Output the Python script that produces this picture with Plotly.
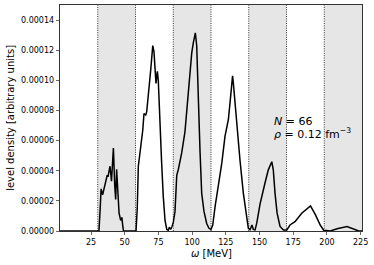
import plotly.graph_objects as go

# omega [MeV]
omega = [2.0, 30.9, 31.8, 32.5, 33.6, 34.9, 36.2, 37.0, 37.6, 38.4, 39.1, 40.2, 41.6, 42.6, 43.3,
         44.0, 44.6, 45.8, 47.0, 47.9, 48.6, 49.1, 58.4, 59.3, 60.1, 61.0, 62.6, 63.4, 64.3, 65.6,
         66.3, 67.5, 69.3, 70.8, 71.7, 73.2, 74.2, 74.9, 76.2, 77.4, 78.6, 79.9, 81.2, 82.3, 83.1,
         84.1, 85.1, 86.1, 87.3, 88.6, 89.8, 92.3, 94.7, 96.0, 97.2, 98.4, 99.7, 100.9, 102.4,
         103.4, 104.6, 105.9, 107.1, 108.8, 110.8, 112.5, 114.0, 115.3, 117.0, 119.4, 122.0, 124.4,
         126.9, 128.1, 130.0, 130.6, 131.8, 133.1, 135.5, 138.0, 140.5, 141.7, 143.0, 144.4, 145.4,
         146.7, 147.9, 150.4, 154.1, 156.5, 159.1, 160.2, 161.5, 163.0, 165.2, 167.7, 170.2, 172.6,
         176.3, 177.8, 181.3, 187.8, 191.4, 195.1, 197.6, 202.5, 207.5, 214.9, 219.9, 223.6, 226.0]

# level density in units of 1e-5
density_e5 = [0, 0, 1.5, 2.8, 2.4, 2.9, 3.5, 3.7, 3.6, 4.0, 4.3, 3.3, 5.5, 3.0, 2.1,
              4.1, 2.8, 1.2, 0.7, 0.9, 0.3, 0, 0, 1.5, 4.3, 5.0, 6.0, 6.7, 7.8, 7.7,
              7.9, 8.9, 10.7, 12.3, 11.9, 9.8, 10.6, 10.0, 6.7, 4.5, 2.3, 0.7, 0.1, 0.05, 0.25,
              0.1, 0.3, 0.6, 1.3, 3.7, 4.1, 5.2, 6.6, 7.9, 9.6, 10.4, 11.8, 12.5, 13.15,
              12.3, 8.5, 5.2, 2.5, 1.3, 0.5, 0.18, 0.1, 0.4, 1.6, 3.0, 4.5, 6.3,
              7.4, 8.5, 10.3, 9.8, 8.5, 6.7, 4.7, 2.5, 0.95, 0.18, 0.1, 0.4, 0.1,
              0.07, 0.5, 1.8, 3.2, 4.06, 4.6, 4.06, 2.5, 1.2, 0.3, 0.07, 0.07, 0.4,
              0.62, 0.78, 1.18, 1.67, 1.09, 0.38, 0.05, 0, 0.15, 0.29, 0.15, 0, 0]

density = [v * 1e-5 for v in density_e5]

band_edges = [30, 58, 86, 114, 142, 170, 198, 226]
x_ticks = [25, 50, 75, 100, 125, 150, 175, 200, 225]
y_ticks = [0, 0.00002, 0.00004, 0.00006, 0.00008, 0.00010, 0.00012, 0.00014]
x_range = [2, 226]
y_range = [0, 0.00015]

FONT = "DejaVu Sans"

fig = go.Figure()
fig.add_trace(go.Scatter(x=omega, y=density, mode="lines",
                         line=dict(color="black", width=1.5), showlegend=False,
                         hoverinfo="skip"))

shapes = []
for i in range(0, len(band_edges) - 1, 2):
    shapes.append(dict(type="rect", xref="x", yref="paper",
                       x0=band_edges[i], x1=band_edges[i + 1], y0=0, y1=1,
                       fillcolor="#e6e6e6", line=dict(width=0), layer="below"))
for e in band_edges[:-1]:
    shapes.append(dict(type="line", xref="x", yref="paper", x0=e, x1=e, y0=0, y1=1,
                       line=dict(color="black", width=0.8, dash="1px,1.3px"), layer="below"))

fig.update_layout(
    width=374, height=265,
    margin=dict(l=60, r=12, t=5, b=34),
    plot_bgcolor="white", paper_bgcolor="white",
    font=dict(family=FONT, size=8, color="black"),
    shapes=shapes,
    xaxis=dict(range=x_range, tickvals=x_ticks, ticks="outside", ticklen=3.5,
               tickwidth=0.8, showgrid=False, zeroline=False, showline=True,
               linecolor="black", linewidth=0.8, mirror=True,
               tickfont=dict(family=FONT, size=8)),
    yaxis=dict(range=y_range, tickvals=y_ticks, tickformat=".5f", ticks="outside",
               ticklen=3.5, tickwidth=0.8, showgrid=False, zeroline=False, showline=True,
               linecolor="black", linewidth=0.8, mirror=True,
               tickfont=dict(family=FONT, size=8)),
    annotations=[
        dict(text="level density [arbitrary units]", textangle=-90, xref="paper", yref="paper",
             x=-0.166, y=0.5, xanchor="center", yanchor="middle", showarrow=False,
             font=dict(family=FONT, size=10)),
        dict(text="<i>ω</i> [MeV]", xref="paper", yref="paper", x=0.5, y=-0.099,
             xanchor="center", yanchor="middle", showarrow=False,
             font=dict(family=FONT, size=10)),
        dict(text="<i>N</i> = 66", xref="x", yref="y", x=159.0, y=0.0000728,
             xanchor="left", yanchor="middle", showarrow=False,
             font=dict(family=FONT, size=11)),
        dict(text="<i>ρ</i> = 0.12 fm<sup>−3</sup>", xref="x", yref="y", x=159.0, y=0.0000650,
             xanchor="left", yanchor="middle", showarrow=False,
             font=dict(family=FONT, size=11)),
    ],
)

fig.write_html("out.html", config={"displayModeBar": False, "staticPlot": True},
               post_script="document.body.style.margin='0';")
